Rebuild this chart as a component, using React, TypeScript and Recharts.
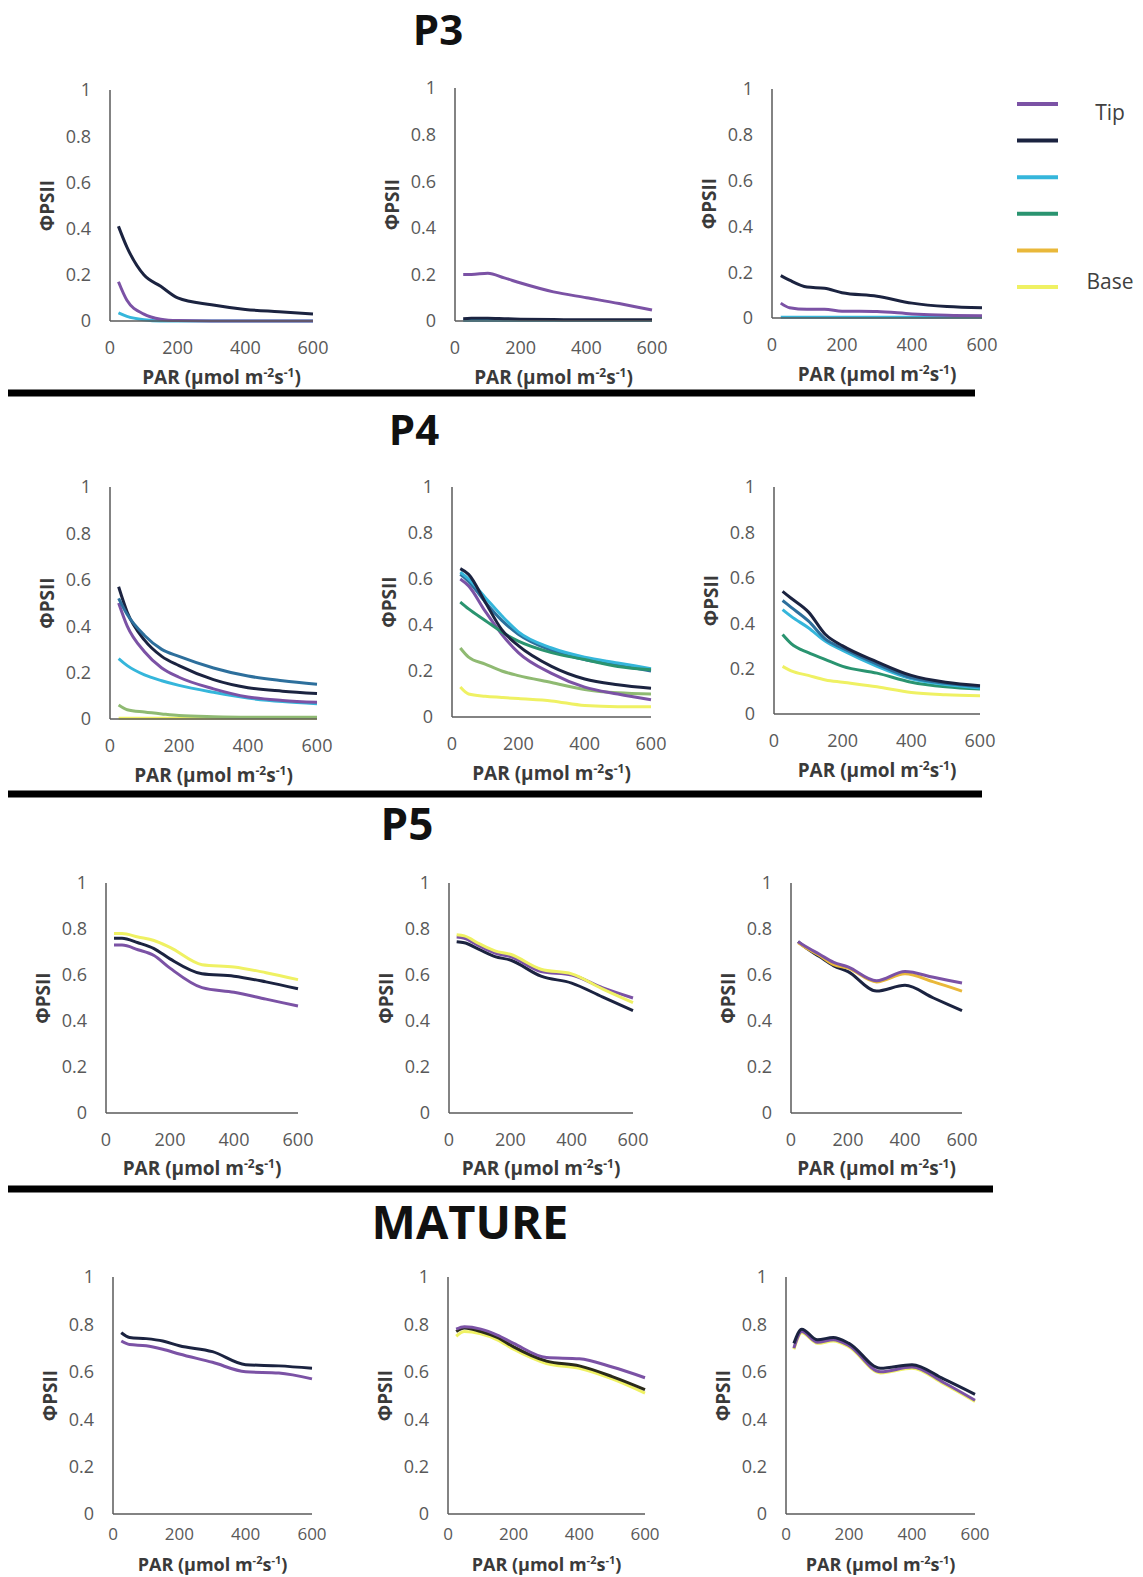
import React from 'react';
import { LineChart, Line, XAxis, YAxis } from 'recharts';

// ---------- data ----------
const PAR = [25, 50, 100, 150, 200, 300, 400, 500, 600];
const X_TICKS = [0, 200, 400, 600];
const Y_TICKS = [0, 0.2, 0.4, 0.6, 0.8, 1];
const STAGES = ['P3', 'P4', 'P5', 'MATURE'];
const LEGEND_LABELS = ['Tip', '', '', '', '', 'Base'];
const X_TITLE = 'PAR (µmol m';
const Y_TITLE = 'ΦPSII';

// P3
const p3aTip = [0.17, 0.09, 0.03, 0.008, 0.002, 0, 0, 0, 0];
const p3aNavy = [0.41, 0.32, 0.2, 0.15, 0.1, 0.07, 0.05, 0.04, 0.03];
const p3aCyan = [0.035, 0.02, 0.005, 0, 0, 0, 0, 0, 0];
const p3bTip = [0.2, 0.2, 0.205, 0.185, 0.163, 0.125, 0.1, 0.075, 0.047];
const p3bNavy = [0.01, 0.012, 0.012, 0.01, 0.008, 0.006, 0.005, 0.005, 0.005];
const p3bCyan = [0.002, 0.002, 0.002, 0.002, 0.002, 0.002, 0.002, 0.002, 0.002];
const p3cTip = [0.065, 0.045, 0.038, 0.038, 0.03, 0.028, 0.018, 0.012, 0.01];
const p3cNavy = [0.185, 0.165, 0.135, 0.13, 0.11, 0.095, 0.065, 0.05, 0.045];
const p3cCyan = [0.003, 0.003, 0.003, 0.003, 0.003, 0.003, 0.003, 0.003, 0.003];

// P4
const p4aSteel = [0.52, 0.45, 0.36, 0.3, 0.27, 0.22, 0.185, 0.165, 0.15];
const p4aNavy = [0.57, 0.46, 0.34, 0.27, 0.23, 0.17, 0.135, 0.12, 0.11];
const p4aTip = [0.5, 0.4, 0.29, 0.22, 0.18, 0.13, 0.095, 0.08, 0.072];
const p4aCyan = [0.26, 0.23, 0.19, 0.165, 0.145, 0.115, 0.09, 0.075, 0.066];
const p4aSage = [0.06, 0.04, 0.03, 0.022, 0.015, 0.01, 0.008, 0.008, 0.008];
const p4aYellow = [0.003, 0.003, 0.003, 0.003, 0.003, 0.003, 0.003, 0.003, 0.003];
const p4bNavy = [0.645, 0.62, 0.5, 0.38, 0.31, 0.22, 0.165, 0.14, 0.125];
const p4bCyan = [0.63, 0.6, 0.52, 0.44, 0.37, 0.3, 0.26, 0.235, 0.21];
const p4bSteel = [0.62, 0.59, 0.5, 0.42, 0.36, 0.29, 0.25, 0.225, 0.2];
const p4bGreen = [0.5, 0.47, 0.42, 0.37, 0.33, 0.28, 0.25, 0.22, 0.205];
const p4bTip = [0.6, 0.57, 0.46, 0.36, 0.28, 0.19, 0.13, 0.1, 0.075];
const p4bSage = [0.3, 0.26, 0.23, 0.2, 0.18, 0.15, 0.12, 0.105, 0.1];
const p4bYellow = [0.13, 0.1, 0.09, 0.085, 0.08, 0.07, 0.05, 0.045, 0.045];
const p4cNavy = [0.54, 0.51, 0.45, 0.35, 0.3, 0.23, 0.17, 0.14, 0.125];
const p4cSteel = [0.5, 0.47, 0.41, 0.33, 0.29, 0.22, 0.16, 0.135, 0.12];
const p4cCyan = [0.46, 0.43, 0.38, 0.32, 0.28, 0.21, 0.155, 0.13, 0.115];
const p4cGreen = [0.35, 0.31, 0.27, 0.24, 0.21, 0.18, 0.14, 0.12, 0.11];
const p4cYellow = [0.21, 0.19, 0.17, 0.15, 0.14, 0.12, 0.095, 0.085, 0.08];

// P5
const p5aYellow = [0.78, 0.78, 0.765, 0.75, 0.72, 0.645, 0.635, 0.61, 0.58];
const p5aNavy = [0.76, 0.76, 0.74, 0.715, 0.67, 0.605, 0.595, 0.57, 0.54];
const p5aTip = [0.73, 0.73, 0.71, 0.685, 0.63, 0.545, 0.525, 0.495, 0.465];
const p5bNavy = [0.745, 0.74, 0.71, 0.68, 0.665, 0.595, 0.565, 0.505, 0.445];
const p5bTip = [0.765, 0.76, 0.725, 0.695, 0.68, 0.615, 0.6, 0.545, 0.5];
const p5bYellow = [0.775, 0.77, 0.735, 0.705, 0.69, 0.625, 0.605, 0.54, 0.48];
const p5cTip = [0.745, 0.725, 0.69, 0.655, 0.635, 0.575, 0.615, 0.59, 0.565];
const p5cYellow = [0.74, 0.72, 0.685, 0.645, 0.63, 0.57, 0.605, 0.57, 0.53];
const p5cNavy = [0.745, 0.72, 0.68, 0.64, 0.615, 0.53, 0.555, 0.5, 0.445];

// MATURE
const maNavy = [0.765, 0.745, 0.74, 0.73, 0.71, 0.685, 0.63, 0.625, 0.615];
const maTip = [0.73, 0.715, 0.71, 0.695, 0.675, 0.64, 0.6, 0.595, 0.57];
const mbTip = [0.78, 0.79, 0.78, 0.755, 0.72, 0.66, 0.655, 0.62, 0.575];
const mbNavy = [0.77, 0.785, 0.77, 0.745, 0.705, 0.645, 0.625, 0.58, 0.525];
const mbYellow = [0.75, 0.77, 0.76, 0.735, 0.695, 0.635, 0.615, 0.57, 0.51];
const mcNavy = [0.72, 0.78, 0.735, 0.745, 0.72, 0.615, 0.63, 0.57, 0.505];
const mcTip = [0.7, 0.77, 0.725, 0.735, 0.71, 0.6, 0.62, 0.555, 0.48];
const mcYellow = [0.695, 0.765, 0.72, 0.73, 0.705, 0.595, 0.615, 0.55, 0.475];

// ---------- styles ----------
const C = {
  tip: '#7B52A5',
  navy: '#1B2340',
  cyan: '#35B6DB',
  steel: '#2D6F9C',
  green: '#2A9470',
  sage: '#8FBA72',
  orange: '#E9B83A',
  yellow: '#EFF163',
};
const LEGEND_COLORS = [C.tip, C.navy, C.cyan, C.green, C.orange, C.yellow];
const FONT = "'Open Sans', 'DejaVu Sans', sans-serif";

type Series = { values: number[]; color: string };
type PanelDef = {
  x0: number; x1: number; y1: number; y0: number;
  titleOff: number; tickM: number; tickFont: number; titleFont: number; titleDx?: number;
  series: Series[];
};

const ROW_A = { titleOff: 56, tickM: 20, tickFont: 18, titleFont: 19 };
const ROW_M = { titleOff: 50, tickM: 14, tickFont: 17, titleFont: 18 };

const PANELS: PanelDef[] = [
  { x0: 110, x1: 313, y1: 90, y0: 321, ...ROW_A, titleDx: 10, series: [
    { values: p3aCyan, color: C.cyan }, { values: p3aTip, color: C.tip }, { values: p3aNavy, color: C.navy } ] },
  { x0: 455, x1: 652, y1: 88, y0: 321, ...ROW_A, series: [
    { values: p3bCyan, color: C.cyan }, { values: p3bNavy, color: C.navy }, { values: p3bTip, color: C.tip } ] },
  { x0: 772, x1: 982, y1: 89, y0: 318, ...ROW_A, series: [
    { values: p3cCyan, color: C.cyan }, { values: p3cTip, color: C.tip }, { values: p3cNavy, color: C.navy } ] },
  { x0: 110, x1: 317, y1: 487, y0: 719, ...ROW_A, series: [
    { values: p4aYellow, color: C.yellow }, { values: p4aSage, color: C.sage }, { values: p4aCyan, color: C.cyan },
    { values: p4aTip, color: C.tip }, { values: p4aNavy, color: C.navy }, { values: p4aSteel, color: C.steel } ] },
  { x0: 452, x1: 651, y1: 487, y0: 717, ...ROW_A, series: [
    { values: p4bYellow, color: C.yellow }, { values: p4bSage, color: C.sage }, { values: p4bTip, color: C.tip },
    { values: p4bSteel, color: C.steel }, { values: p4bCyan, color: C.cyan }, { values: p4bGreen, color: C.green },
    { values: p4bNavy, color: C.navy } ] },
  { x0: 774, x1: 980, y1: 487, y0: 714, ...ROW_A, series: [
    { values: p4cYellow, color: C.yellow }, { values: p4cGreen, color: C.green }, { values: p4cCyan, color: C.cyan },
    { values: p4cSteel, color: C.steel }, { values: p4cNavy, color: C.navy } ] },
  { x0: 106, x1: 298, y1: 883, y0: 1113, ...ROW_A, titleOff: 55, series: [
    { values: p5aYellow, color: C.yellow }, { values: p5aTip, color: C.tip }, { values: p5aNavy, color: C.navy } ] },
  { x0: 449, x1: 633, y1: 883, y0: 1113, ...ROW_A, titleOff: 55, series: [
    { values: p5bNavy, color: C.navy }, { values: p5bTip, color: C.tip }, { values: p5bYellow, color: C.yellow } ] },
  { x0: 791, x1: 962, y1: 883, y0: 1113, ...ROW_A, titleOff: 55, series: [
    { values: p5cNavy, color: C.navy }, { values: p5cYellow, color: C.orange }, { values: p5cTip, color: C.tip } ] },
  { x0: 113, x1: 312, y1: 1277, y0: 1514, ...ROW_M, series: [
    { values: maTip, color: C.tip }, { values: maNavy, color: C.navy } ] },
  { x0: 448, x1: 645, y1: 1277, y0: 1514, ...ROW_M, series: [
    { values: mbYellow, color: C.yellow }, { values: mbNavy, color: '#2a2a1a' }, { values: mbTip, color: C.tip } ] },
  { x0: 786, x1: 975, y1: 1277, y0: 1514, ...ROW_M, series: [
    { values: mcYellow, color: C.yellow }, { values: mcTip, color: C.tip }, { values: mcNavy, color: C.navy } ] },
];

const HEADINGS = [
  { cx: 438, base: 45, size: 42 },
  { cx: 414, base: 445, size: 42 },
  { cx: 407, base: 840, size: 44 },
  { cx: 470, base: 1239, size: 47 },
];

const SEPARATORS = [
  { y: 393, x1: 8, x2: 975 },
  { y: 794, x1: 8, x2: 982 },
  { y: 1189, x1: 8, x2: 993 },
];

const Y_AXIS_W = 80;
const M_TOP = 12;
const M_RIGHT = 30;
const X_AXIS_H = 72;

function XTitle(props: any) {
  const vb = props.viewBox;
  if (!vb) return null;
  const fs = props.fs;
  const ss = Math.round(fs * 0.63);
  const cx = vb.x + vb.width / 2 + (props.shift || 0);
  const y = vb.y + props.off + 7;
  return (
    <text x={cx} y={y} textAnchor="middle" fontFamily={FONT} fontWeight={700} fontSize={fs} fill="#3a3a3a">
      {X_TITLE}
      <tspan fontSize={ss} dy={-7}>-2</tspan>
      <tspan fontSize={fs} dy={7}>s</tspan>
      <tspan fontSize={ss} dy={-7}>-1</tspan>
      <tspan fontSize={fs} dy={7}>)</tspan>
    </text>
  );
}

function YTitle(props: any) {
  const vb = props.viewBox;
  if (!vb) return null;
  const cx = vb.x + vb.width - 63;
  const cy = vb.y + vb.height / 2;
  return (
    <text x={cx} y={cy} transform={`rotate(-90, ${cx}, ${cy})`} textAnchor="middle" dominantBaseline="central"
      fontFamily={FONT} fontWeight={700} fontSize={19} fill="#3a3a3a">
      {Y_TITLE}
    </text>
  );
}

function Panel({ p }: { p: PanelDef }) {
  const plotW = p.x1 - p.x0;
  const plotH = p.y0 - p.y1;
  const width = Y_AXIS_W + plotW + M_RIGHT;
  const height = M_TOP + plotH + X_AXIS_H;
  const rows = PAR.map((x, i) => {
    const r: any = { par: x };
    p.series.forEach((s, k) => { r['s' + k] = s.values[i]; });
    return r;
  });
  const xTick = { fill: '#595959', fontSize: p.tickFont, fontFamily: FONT };
  const yTick = { fill: '#595959', fontSize: 18, fontFamily: FONT };
  return (
    <div style={{ position: 'absolute', left: p.x0 - Y_AXIS_W, top: p.y1 - M_TOP }}>
      <LineChart width={width} height={height} data={rows} margin={{ top: M_TOP, right: M_RIGHT, bottom: 0, left: 0 }}>
        <XAxis type="number" dataKey="par" domain={[0, 600]} ticks={X_TICKS} interval={0} height={X_AXIS_H}
          tickLine={false} tickSize={0} tickMargin={p.tickM} tick={xTick}
          axisLine={{ stroke: '#5a5a5a', strokeWidth: 1.5 }}
          label={<XTitle off={p.titleOff} shift={p.titleDx || 0} fs={p.titleFont} />} />
        <YAxis type="number" domain={[0, 1]} ticks={Y_TICKS} interval={0} width={Y_AXIS_W}
          tickLine={false} tickSize={0} tickMargin={19} tick={yTick}
          axisLine={{ stroke: '#5a5a5a', strokeWidth: 1.5 }}
          label={<YTitle />} />
        {p.series.map((s, k) => (
          <Line key={k} type="monotone" dataKey={'s' + k} stroke={s.color} strokeWidth={3} dot={false}
            isAnimationActive={false} />
        ))}
      </LineChart>
    </div>
  );
}

export default function App() {
  return (
    <div style={{ position: 'absolute', left: 0, top: 0, width: 1143, height: 1577, background: '#ffffff', overflow: 'hidden' }}>
      <svg width={1143} height={1577} style={{ position: 'absolute', left: 0, top: 0 }}>
        {HEADINGS.map((h, i) => (
          <text key={i} x={h.cx} y={h.base} textAnchor="middle" fontFamily={FONT} fontWeight={700}
            fontSize={h.size} fill="#111111">{STAGES[i]}</text>
        ))}
        {SEPARATORS.map((s, i) => (
          <rect key={i} x={s.x1} y={s.y - 3.5} width={s.x2 - s.x1} height={7} fill="#000000" />
        ))}
        {LEGEND_COLORS.map((c, i) => (
          <line key={i} x1={1017} x2={1058} y1={104 + i * 36.6} y2={104 + i * 36.6} stroke={c} strokeWidth={4} />
        ))}
        {LEGEND_LABELS.map((t, i) => t ? (
          <text key={'l' + i} x={1110} y={i === 0 ? 120 : 289} textAnchor="middle" fontFamily={FONT}
            fontSize={21} fill="#404040">{t}</text>
        ) : null)}
      </svg>
      {PANELS.map((p, i) => <Panel key={i} p={p} />)}
    </div>
  );
}
